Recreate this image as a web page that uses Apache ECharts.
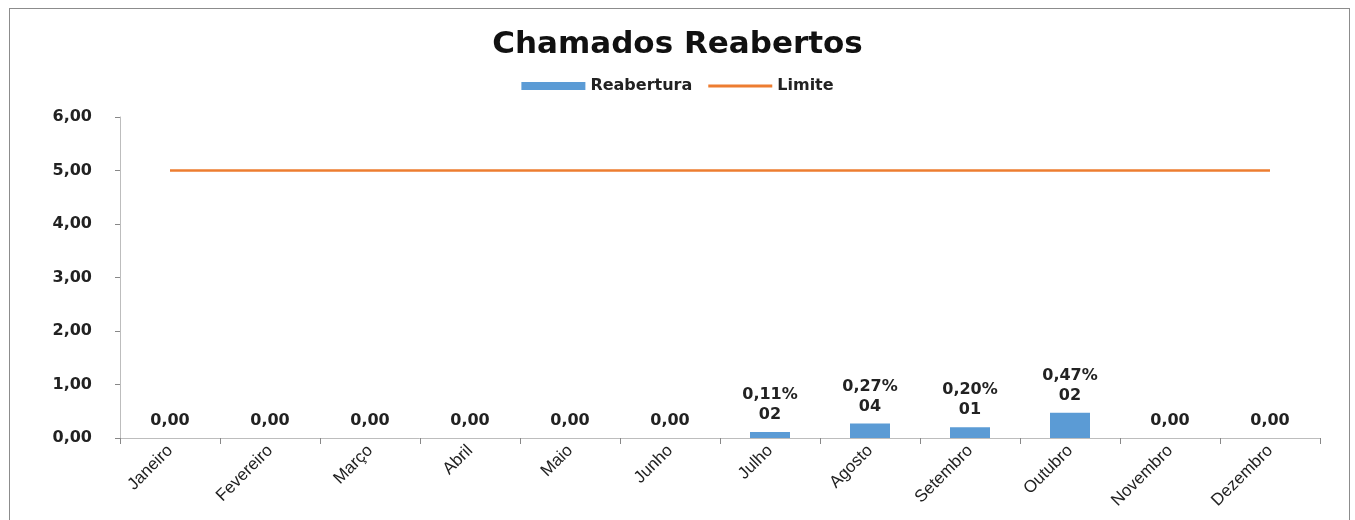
<!DOCTYPE html>
<html>
<head>
<meta charset="utf-8">
<script src="https://cdn.jsdelivr.net/npm/echarts@6/dist/echarts.min.js"></script>
<style>
  html, body { margin: 0; padding: 0; background: #fff; }
  #frame { position: absolute; left: 9px; top: 8px; width: 1341px; height: 520px; border: 1px solid #8c8c8c; box-sizing: border-box; }
  #chart { position: absolute; left: 0; top: 0; width: 1355px; height: 520px; }
</style>
</head>
<body>
<div id="frame"></div>
<div id="chart"></div>
<script>
// dados do gráfico
const meses = ['Janeiro', 'Fevereiro', 'Março', 'Abril', 'Maio', 'Junho', 'Julho', 'Agosto', 'Setembro', 'Outubro', 'Novembro', 'Dezembro']
const reabertura = [0, 0, 0, 0, 0, 0, 0.11, 0.27, 0.20, 0.47, 0, 0]
const quantidade = ['', '', '', '', '', '', '02', '04', '01', '02', '', '']
const limite = [5, 5, 5, 5, 5, 5, 5, 5, 5, 5, 5, 5]

const fmt = v => v.toFixed(2).replace('.', ',')

const chart = echarts.init(document.getElementById('chart'))

const labelFont = { fontFamily: 'DejaVu Sans', fontWeight: 'bold', fontSize: 16, color: '#222' }

chart.setOption({
  animation: false,
  title: {
    text: 'Chamados Reabertos',
    left: 'center',
    top: 24,
    textStyle: { fontFamily: 'DejaVu Sans', fontWeight: 'bold', fontSize: 31, color: '#111' }
  },
  legend: {
    top: 73,
    left: 'center',
    itemGap: 16,
    itemWidth: 64,
    itemHeight: 8,
    textStyle: { fontFamily: 'DejaVu Sans', fontWeight: 'bold', fontSize: 16, color: '#222' },
    data: [
      { name: 'Reabertura', icon: 'rect' },
      { name: 'Limite', icon: 'path://M0,0 L64,0 L64,3 L0,3 Z' }
    ]
  },
  grid: { left: 120, right: 35, top: 117, bottom: 82 },
  xAxis: {
    type: 'category',
    data: meses,
    axisLine: { lineStyle: { color: '#bdbdbd' } },
    axisTick: { show: true, lineStyle: { color: '#888' }, length: 6 },
    axisLabel: { rotate: 45, fontFamily: 'Liberation Sans', fontSize: 17, color: '#222', margin: 10, interval: 0 }
  },
  yAxis: {
    type: 'value',
    min: 0,
    max: 6,
    interval: 1,
    splitLine: { show: false },
    axisLine: { show: true, lineStyle: { color: '#bdbdbd' } },
    axisTick: { show: true, inside: false, length: 5, lineStyle: { color: '#888' } },
    axisLabel: { formatter: fmt, ...labelFont, margin: 28 }
  },
  series: [
    {
      name: 'Reabertura',
      type: 'bar',
      barWidth: 40,
      data: reabertura,
      itemStyle: { color: '#5b9bd5', borderColor: '#4a86c0', borderWidth: 0 },
      label: {
        show: true,
        position: 'top',
        distance: 7,
        lineHeight: 20,
        ...labelFont,
        formatter: p => quantidade[p.dataIndex]
          ? fmt(p.value) + '%\n' + quantidade[p.dataIndex]
          : fmt(p.value)
      }
    },
    {
      name: 'Limite',
      type: 'line',
      data: limite,
      symbol: 'none',
      lineStyle: { color: '#ed7d31', width: 2.5 },
      itemStyle: { color: '#ed7d31' }
    }
  ]
})
</script>
</body>
</html>
